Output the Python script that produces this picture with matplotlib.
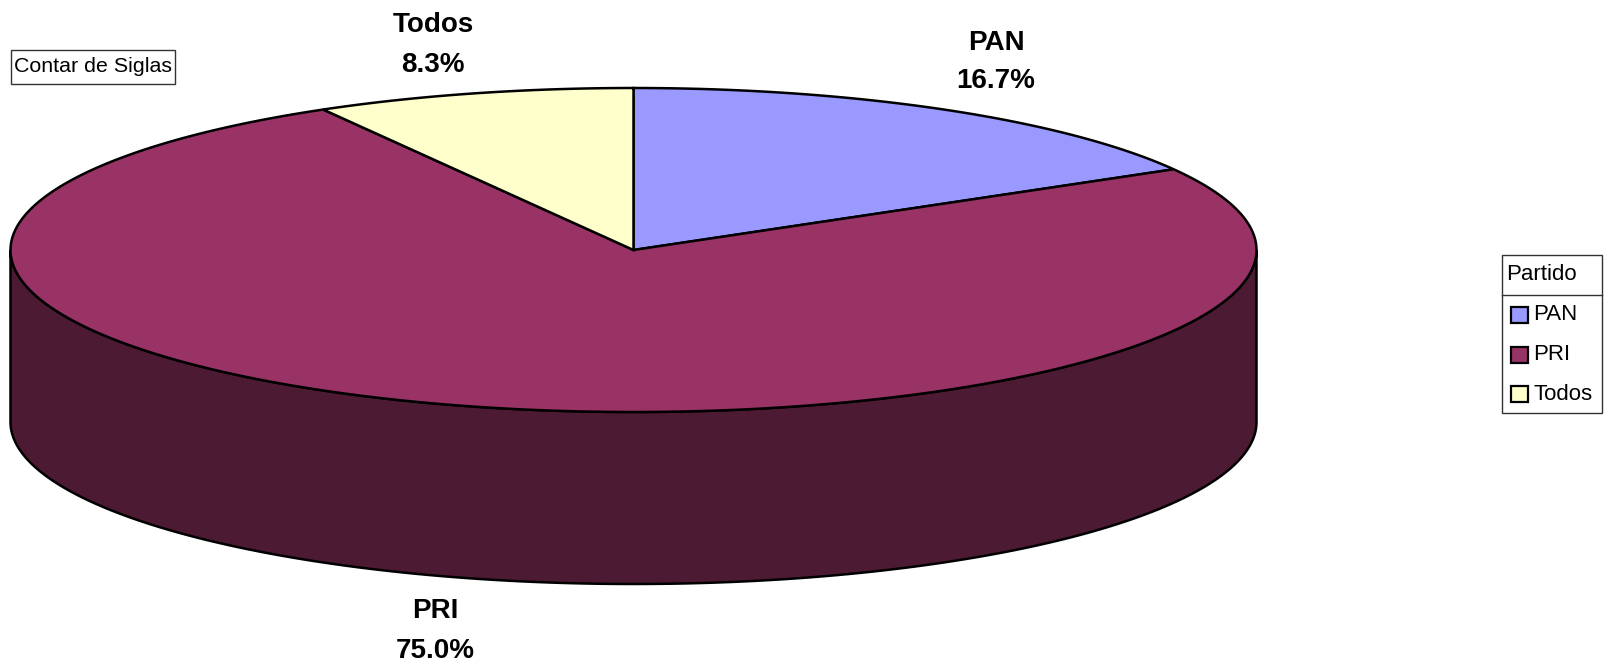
"""3D style pie chart of party counts."""

import matplotlib

matplotlib.use("Agg")

import matplotlib.pyplot as plt
import numpy as np
from matplotlib.patches import Polygon, Rectangle

parties = ["PAN", "PRI", "Todos"]
shares = [16.7, 75.0, 8.3]
top_colors = ["#9999FF", "#993366", "#FFFFCC"]
side_color = "#4C1A33"

font = "Liberation Sans"

WIDTH, HEIGHT = 1614, 665
CX, CY = 633.5, 250
RX, RY = 623, 162
DEPTH = 172

figure = plt.figure(figsize=(WIDTH / 100, HEIGHT / 100), dpi=100)
axis = figure.add_axes([0, 0, 1, 1])
axis.set_xlim(0, WIDTH)
axis.set_ylim(HEIGHT, 0)
axis.axis("off")


def rim(start, stop):
    # angles run clockwise from twelve o'clock
    angles = np.linspace(start, stop, 300)
    return np.column_stack([CX + RX * np.sin(angles), CY - RY * np.cos(angles)])


# front wall of the disc
front = rim(np.pi / 2, 3 * np.pi / 2)
wall = np.vstack([front, front[::-1] + [0, DEPTH]])
axis.add_patch(Polygon(wall, facecolor=side_color, edgecolor="black", linewidth=1.8, zorder=1))

fractions = np.array(shares) / sum(shares)
edges = np.concatenate([[0], np.cumsum(fractions)]) * 2 * np.pi
for i, color in enumerate(top_colors):
    points = np.vstack([[CX, CY], rim(edges[i], edges[i + 1])])
    axis.add_patch(Polygon(points, facecolor=color, edgecolor="black", linewidth=1.8, zorder=2))

label_positions = [(996, 62), (435, 631), (433, 45)]
for party, share, (x, y) in zip(parties, shares, label_positions):
    axis.text(x, y, f"{party}\n{share:.1f}%", ha="center", va="center", family=font,
              fontweight="bold", fontsize=20, linespacing=1.65, color="black")

axis.add_patch(Rectangle((10.5, 49.5), 164, 34, facecolor="white", edgecolor="#333333", linewidth=1))
axis.text(14, 66, "Contar de Siglas", ha="left", va="center", family=font, fontsize=15.4)

# legend box
axis.add_patch(Rectangle((1501.5, 254.5), 100, 158, facecolor="white", edgecolor="#333333", linewidth=1))
axis.plot([1501.5, 1601.5], [294.5, 294.5], color="#333333", linewidth=1)
axis.text(1506, 274, "Partido", ha="left", va="center", family=font, fontsize=16)
for party, color, y in zip(parties, top_colors, [315, 355, 394]):
    axis.add_patch(Rectangle((1510.5, y - 8), 17, 16, facecolor=color, edgecolor="black", linewidth=1.6))
    axis.text(1533, y, party, ha="left", va="center", family=font, fontsize=16)

figure.savefig("out.png", dpi=100)
plt.close(figure)
